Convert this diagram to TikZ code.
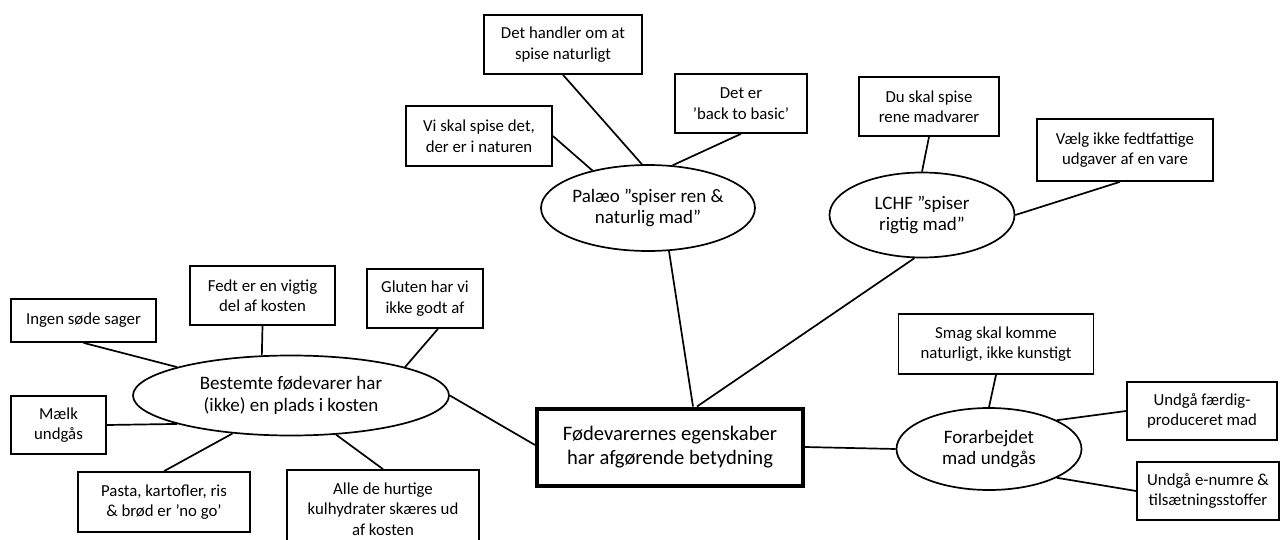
\documentclass[tikz,border=0pt]{standalone}
\usepackage{fontspec}
\setmainfont{Carlito}
\usetikzlibrary{shapes.geometric,calc}
\begin{document}
\begin{tikzpicture}[x=1pt,y=-1pt,
  box/.style={draw,line width=1.7pt,rectangle,inner sep=0pt,align=center,font=\fontsize{16.8}{20.5}\selectfont},
  oval/.style={draw,line width=1.7pt,ellipse,inner xsep=-14pt,inner ysep=-7pt,align=center,font=\fontsize{19}{21.5}\selectfont},
  link/.style={line width=1.7pt}]
\fill[white] (0,0) rectangle (1281,540);
\useasboundingbox (0,0) rectangle (1281,540);

% central node
\node[draw,line width=4pt,rectangle,inner sep=0pt,align=center,minimum width=266pt,minimum height=77pt,
  font=\fontsize{20.6}{24}\selectfont] (center) at (670,447) {Fødevarernes egenskaber\\har afgørende betydning};

% ellipses
\node[oval,minimum width=214pt,minimum height=86pt] (palaeo) at (648,208) {Palæo ”spiser ren \&\\naturlig mad”};
\node[oval,minimum width=185pt,minimum height=85pt] (lchf) at (922,215) {LCHF ”spiser\\rigtig mad”};
\node[oval,minimum width=316pt,minimum height=80pt] (best) at (291,395.5) {Bestemte fødevarer har\\(ikke) en plads i kosten};
\node[oval,minimum width=185pt,minimum height=82pt] (forar) at (989,449) {Forarbejdet\\mad undgås};

% boxes
\node[box,minimum width=158pt,minimum height=59pt] (handler) at (563,44.5) {Det handler om at\\spise naturligt};
\node[box,minimum width=132pt,minimum height=59pt] (basic) at (741,103.5) {Det er\\’back to basic’};
\node[box,minimum width=146pt,minimum height=60pt] (vi) at (479,136) {Vi skal spise det,\\der er i naturen};
\node[box,minimum width=140pt,minimum height=59pt] (dusk) at (929,106.5) {Du skal spise\\rene madvarer};
\node[box,minimum width=176pt,minimum height=62pt] (vaelg) at (1125,150) {Vælg ikke fedtfattige\\udgaver af en vare};
\node[box,minimum width=145pt,minimum height=43pt] (ingen) at (83.5,320.5) {Ingen søde sager};
\node[box,minimum width=145pt,minimum height=59pt] (fedt) at (262.5,295.5) {Fedt er en vigtig\\del af kosten};
\node[box,minimum width=116pt,minimum height=59pt] (gluten) at (425,298.5) {Gluten har vi\\ikke godt af};
\node[box,minimum width=95pt,minimum height=58pt] (maelk) at (58.5,425) {Mælk\\undgås};
\node[box,minimum width=172pt,minimum height=60pt] (pasta) at (164,502) {Pasta, kartofler, ris\\\& brød er ’no go’};
\node[box,minimum width=192pt,minimum height=78pt] (alle) at (383,509) {Alle de hurtige\\kulhydrater skæres ud\\af kosten};
\node[box,minimum width=195pt,minimum height=60pt] (smag) at (996,344) {Smag skal komme\\naturligt, ikke kunstigt};
\node[box,minimum width=150pt,minimum height=58pt] (faerdig) at (1202,411) {Undgå færdig-\\produceret mad};
\node[box,minimum width=142pt,minimum height=58pt] (enumre) at (1208,491) {Undgå e-numre \&\\tilsætningsstoffer};

% connectors
\draw[link] (palaeo.146) -- (vi.east);
\draw[link] (palaeo.98) -- (handler.south);
\draw[link] (palaeo.60) -- (basic.south);
\draw[link] (palaeo.-64) -- ([xshift=23pt]center.north);
\draw[link] (lchf.north) -- (dusk.south);
\draw[link] (lchf.east) -- ([xshift=-5pt]vaelg.south);
\draw[link] (lchf.-100) -- ([xshift=27pt]center.north);
\draw[link] (best.166) -- (ingen.south);
\draw[link] (best.126) -- (fedt.south);
\draw[link] (best.14.5) -- ([xshift=13pt]gluten.south);
\draw[link] (best.-166) -- (maelk.east);
\draw[link] (best.-147) -- (pasta.north);
\draw[link] (best.-41) -- (alle.north);
\draw[link] (best.east) -- ([yshift=2pt]center.west);
\draw[link] (center.east) -- (forar.west);
\draw[link] (forar.north) -- (smag.south);
\draw[link] (forar.23) -- (faerdig.west);
\draw[link] (forar.-23) -- (enumre.west);
\end{tikzpicture}
\end{document}
